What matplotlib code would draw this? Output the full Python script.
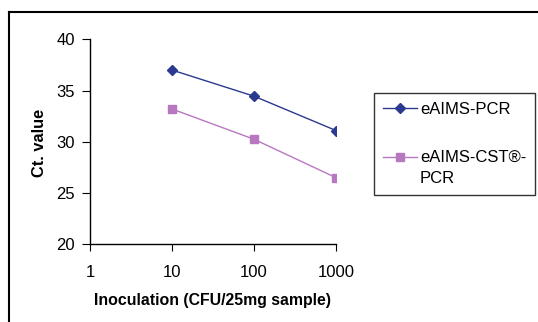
import matplotlib
matplotlib.use("Agg")
import matplotlib.pyplot as plt
from matplotlib.lines import Line2D
from matplotlib.legend_handler import HandlerLine2D

plt.rcParams['font.family'] = ['Liberation Sans', 'DejaVu Sans']

inoculation = [10, 100, 1000]
x_ticks = [1, 10, 100, 1000]
x_tick_labels = ["1", "10", "100", "1000"]
y_ticks = [20, 25, 30, 35, 40]
eaims_pcr = [37.0, 34.45, 31.1]
eaims_cst_pcr = [33.2, 30.25, 26.5]
series_names = ["eAIMS-PCR", "eAIMS-CST®-\nPCR"]

blue = "#2B3990"
pink = "#B878C0"

W, H = 538, 322
fig = plt.figure(figsize=(W / 100, H / 100), dpi=100)

# outer frame (top and left visible)
fig.add_artist(Line2D([8.5 / W, 8.5 / W], [0, 1 - 11.5 / H], color="black", lw=1.5, transform=fig.transFigure))
fig.add_artist(Line2D([8.5 / W, 1], [1 - 11.5 / H, 1 - 11.5 / H], color="black", lw=1.5, transform=fig.transFigure))

ax_l, ax_r, ax_t, ax_b = 90, 336, 39.3, 244.3
ax = fig.add_axes([ax_l / W, 1 - ax_b / H, (ax_r - ax_l) / W, (ax_b - ax_t) / H])

l1, = ax.plot(inoculation, eaims_pcr, color=blue, lw=1, marker="D", markersize=5.5,
              markerfacecolor=blue, markeredgecolor=blue)
l2, = ax.plot(inoculation, eaims_cst_pcr, color=pink, lw=1, marker="s", markersize=6,
              markerfacecolor=pink, markeredgecolor=pink)

ax.set_xscale("log")
ax.set_xlim(1, 1000)
ax.set_ylim(20, 40)
ax.set_xticks(x_ticks)
ax.set_xticklabels(x_tick_labels)
ax.minorticks_off()
ax.set_yticks(y_ticks)
ax.tick_params(axis="x", direction="out", length=5, pad=10, labelsize=12)
ax.tick_params(axis="y", direction="out", length=6, pad=5, labelsize=12)
for s in ["top", "right"]:
    ax.spines[s].set_visible(False)
for s in ["left", "bottom"]:
    ax.spines[s].set_linewidth(1)

fig.text(40 / W, 1 - 143 / H, "Ct. value", rotation=90, ha="center", va="center",
         fontsize=11.8, fontweight="bold")
fig.text(213 / W, 1 - 300 / H, "Inoculation (CFU/25mg sample)", ha="center", va="center",
         fontsize=11.4, fontweight="bold")


class HandlerShift(HandlerLine2D):
    def __init__(self, shift=0, **kw):
        super().__init__(**kw)
        self.shift = shift

    def create_artists(self, legend, orig_handle, xdescent, ydescent, width, height, fontsize, trans):
        return super().create_artists(legend, orig_handle, xdescent, ydescent - self.shift,
                                      width, height, fontsize, trans)


leg = fig.legend([l1, l2], series_names, loc="upper left",
                 bbox_to_anchor=(374 / W, 1 - 93 / H), bbox_transform=fig.transFigure,
                 fontsize=12, frameon=True, fancybox=False, edgecolor="black",
                 handlelength=2.0, handletextpad=0.2, labelspacing=1.95,
                 borderpad=0.55, borderaxespad=0, markerscale=0.9,
                 handler_map={l2: HandlerShift(shift=16)})
leg.get_frame().set_linewidth(1)
for t in leg.get_texts():
    t.set_linespacing(1.5)

fig.savefig("out.png", dpi=100)
